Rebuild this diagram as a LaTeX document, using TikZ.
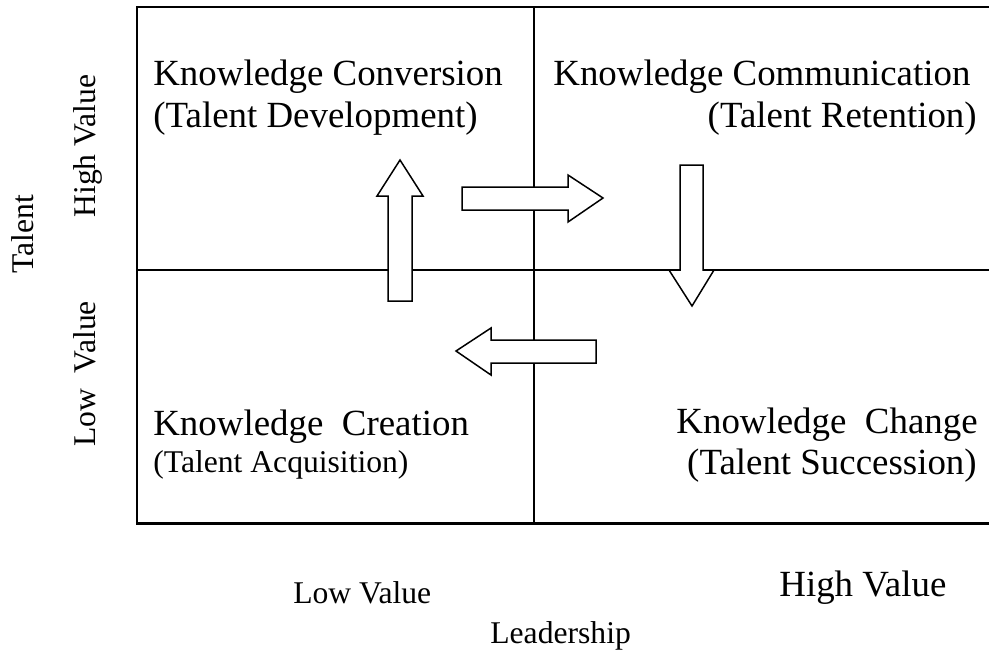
\documentclass[tikz,border=0pt]{standalone}
\usepackage{fontspec}
\setmainfont{Liberation Serif}

\begin{document}
\begin{tikzpicture}[x=0.02cm,y=-0.02cm,
  quadtext/.style={inner sep=0,font=\fontsize{21}{25}\selectfont},
  smalltext/.style={inner sep=0,font=\fontsize{18}{22}\selectfont},
  blockarrow/.style={draw,fill=white,line width=0.85pt,line join=miter}]
\useasboundingbox (0,0) rectangle (989,660);
% grid of the four quadrants
\draw[line width=1.7pt] (137,7) rectangle (1000,523);
\draw[line width=1.1pt] (534,7) -- (534,523);
\draw[line width=1.1pt] (137,270) -- (1000,270);
% quadrant texts
\node[quadtext,anchor=base west] (conv) at (153,85) {Knowledge Conversion};
\node[quadtext,anchor=base west] (dev) at (153,127) {(Talent Development)};
\node[quadtext,anchor=base west] (comm) at (553,85) {Knowledge Communication};
\node[quadtext,anchor=base east] (ret) at (977,127) {(Talent Retention)};
\node[quadtext,anchor=base west] (crea) at (153,435) {Knowledge\ \ Creation};
\node[smalltext,anchor=base west] (acq) at (153,472) {(Talent Acquisition)};
\node[quadtext,anchor=base east] (chg) at (978,433) {Knowledge\ \ Change};
\node[quadtext,anchor=base east] (succ) at (977,474) {(Talent Succession)};
% flow between quadrants
\draw[blockarrow] (388,301) -- (388,196) -- (377,196) -- (400,160) -- (423,196) -- (412,196) -- (412,301) -- cycle;
\draw[blockarrow] (462,187) -- (568,187) -- (568,175) -- (603,198) -- (568,222) -- (568,210) -- (462,210) -- cycle;
\draw[blockarrow] (680,165) -- (703,165) -- (703,270) -- (714,270) -- (692,306) -- (669,270) -- (680,270) -- cycle;
\draw[blockarrow] (596,340) -- (491,340) -- (491,328) -- (456,351) -- (491,375) -- (491,363) -- (596,363) -- cycle;
% axis labels
\node[smalltext,rotate=90,anchor=base] (talent) at (33,234) {Talent};
\node[smalltext,rotate=90,anchor=base] (thigh) at (95,146) {High Value};
\node[smalltext,rotate=90,anchor=base] (tlow) at (95,374) {Low\ \ Value};
\node[smalltext,anchor=base west] (llow) at (293,603) {Low Value};
\node[quadtext,anchor=base west] (lhigh) at (779,596) {High Value};
\node[smalltext,anchor=base west] (lead) at (490,643) {Leadership};
\end{tikzpicture}
\end{document}
